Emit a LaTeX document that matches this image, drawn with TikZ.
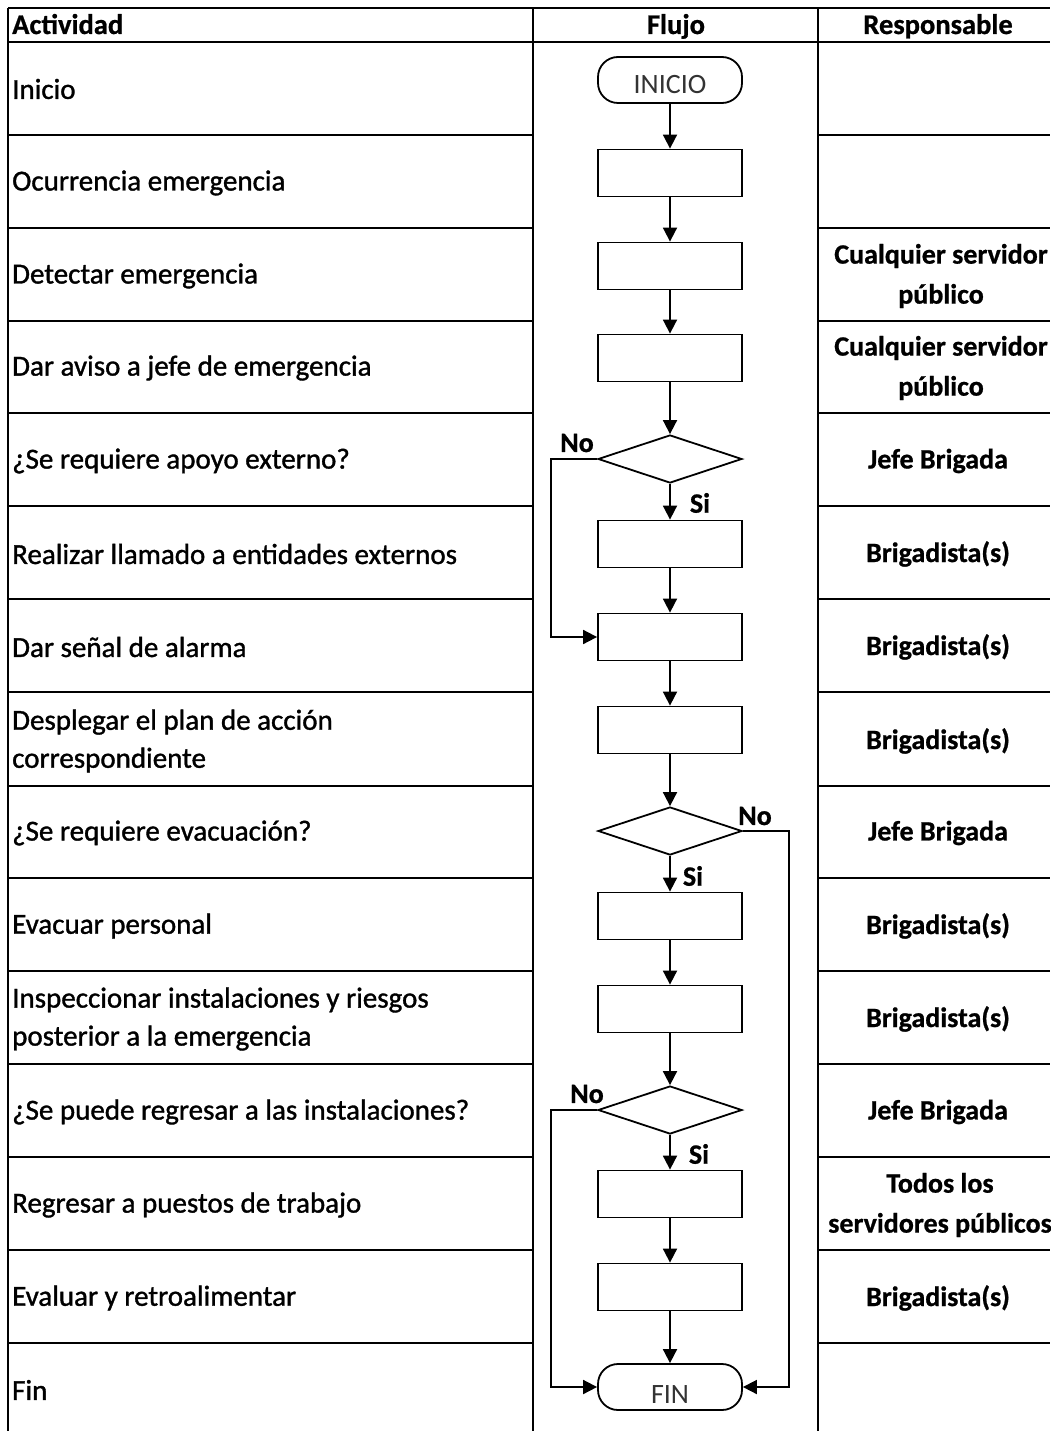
\documentclass[tikz,border=0pt]{standalone}
\usepackage{fontspec}
\setmainfont{Carlito}
\newfontfamily\actfont[FakeBold=1.2]{Carlito}
\newfontfamily\boldfont[FakeBold=0.8]{Carlito Bold}
\usetikzlibrary{shapes.geometric,arrows.meta}
\tikzset{
  tbl/.style={line width=1.8pt,black},
  proc/.style={draw=black,line width=1.8pt,minimum width=144pt,minimum height=47pt,inner sep=0pt},
  term/.style={draw=black,line width=1.8pt,rounded corners=20pt,minimum width=144pt,minimum height=46pt,inner sep=0pt,font=\fontsize{28}{30}\selectfont,text=black!80},
  dec/.style={draw=black,line width=1.8pt,diamond,aspect=3,minimum width=144pt,minimum height=48pt,inner sep=0pt},
  arr/.style={line width=1.8pt,black,-{Triangle[length=14pt,width=14pt]}},
  act/.style={anchor=west,inner sep=0pt,align=left,font=\actfont\fontsize{29}{38}\selectfont},
  resp/.style={inner sep=0pt,align=center,font=\boldfont\fontsize{28}{40}\selectfont},
  hdr/.style={inner sep=0pt,anchor=base,font=\boldfont\fontsize{28.5}{30}\selectfont},
  lbl/.style={inner sep=0pt,font=\boldfont\fontsize{28}{30}\selectfont}
}
\begin{document}
\begin{tikzpicture}[x=1pt,y=-1pt]
\useasboundingbox (0,0) rectangle (1050,1431);
% table
\draw[tbl] (8,8) -- (1050,8);
\draw[tbl] (8,42) -- (1050,42);
\draw[tbl] (8,8) -- (8,1431);
\draw[tbl] (533,8) -- (533,1431);
\draw[tbl] (818,8) -- (818,1431);
\foreach \y in {135,228,321,413,506,599,692,786,878,971,1064,1157,1250,1343}{
  \draw[tbl] (8,\y) -- (533,\y);
  \draw[tbl] (818,\y) -- (1050,\y);
}
% headers
\node[hdr,anchor=base west] (hA) at (12,34) {Actividad};
\node[hdr] (hF) at (676,34) {Flujo};
\node[hdr] (hR) at (938,34) {Responsable};
% activities
\node[act] (a1) at (12,89) {Inicio};
\node[act] (a2) at (12,183) {Ocurrencia emergencia};
\node[act] (a3) at (12,276) {Detectar emergencia};
\node[act] (a4) at (12,368) {Dar aviso a jefe de emergencia};
\node[act] (a5) at (12,461) {¿Se requiere apoyo externo?};
\node[act] (a6) at (12,554) {Realizar llamado a entidades externos};
\node[act] (a7) at (12,647) {Dar señal de alarma};
\node[act] (a8) at (12,741) {Desplegar el plan de acción\\correspondiente};
\node[act] (a9) at (12,833) {¿Se requiere evacuación?};
\node[act] (a10) at (12,926) {Evacuar personal};
\node[act] (a11) at (12,1019) {Inspeccionar instalaciones y riesgos\\posterior a la emergencia};
\node[act] (a12) at (12,1112) {¿Se puede regresar a las instalaciones?};
\node[act] (a13) at (12,1205) {Regresar a puestos de trabajo};
\node[act] (a14) at (12,1298) {Evaluar y retroalimentar};
\node[act] (a15) at (12,1390) {Fin};
% responsible
\node[resp] (r3) at (941,276) {Cualquier servidor\\público};
\node[resp] (r4) at (941,368) {Cualquier servidor\\público};
\node[resp] (r5) at (938,461) {Jefe Brigada};
\node[resp] (r6) at (938,554) {Brigadista(s)};
\node[resp] (r7) at (938,647) {Brigadista(s)};
\node[resp] (r8) at (938,741) {Brigadista(s)};
\node[resp] (r9) at (938,833) {Jefe Brigada};
\node[resp] (r10) at (938,926) {Brigadista(s)};
\node[resp] (r11) at (938,1019) {Brigadista(s)};
\node[resp] (r12) at (938,1112) {Jefe Brigada};
\node[resp] (r13) at (940,1205) {Todos los\\servidores públicos};
\node[resp] (r14) at (938,1298) {Brigadista(s)};
% flow
\node[term] (ini) at (670,80) {\raisebox{-14pt}[0pt][0pt]{INICIO}};
\node[proc] (b2) at (670,173) {};
\node[proc] (b3) at (670,266) {};
\node[proc] (b4) at (670,358) {};
\node[dec] (d1) at (670,459) {};
\node[proc] (b6) at (670,544) {};
\node[proc] (b7) at (670,637) {};
\node[proc] (b8) at (670,730) {};
\node[dec] (d2) at (670,831) {};
\node[proc] (b10) at (670,916) {};
\node[proc] (b11) at (670,1009) {};
\node[dec] (d3) at (670,1110) {};
\node[proc] (b13) at (670,1194) {};
\node[proc] (b14) at (670,1287) {};
\node[term] (fin) at (670,1387) {\raisebox{-16pt}[0pt][0pt]{FIN}};
% connectors
\draw[arr] (ini) -- (b2);
\draw[arr] (b2) -- (b3);
\draw[arr] (b3) -- (b4);
\draw[arr] (b4) -- (d1);
\draw[arr] (d1) -- (b6);
\draw[arr] (b6) -- (b7);
\draw[arr] (d1.west) -- ++(-46,0) |- (b7.west);
\draw[arr] (b7) -- (b8);
\draw[arr] (b8) -- (d2);
\draw[arr] (d2) -- (b10);
\draw[arr] (d2.east) -- ++(46,0) |- (fin.east);
\draw[arr] (b10) -- (b11);
\draw[arr] (b11) -- (d3);
\draw[arr] (d3) -- (b13);
\draw[arr] (d3.west) -- ++(-46,0) |- (fin.west);
\draw[arr] (b13) -- (b14);
\draw[arr] (b14) -- (fin);
% labels
\node[lbl] (n1) at (577,443) {No};
\node[lbl] (s1) at (700,503) {Si};
\node[lbl] (n2) at (755,816) {No};
\node[lbl] (s2) at (693,876) {Si};
\node[lbl] (n3) at (587,1094) {No};
\node[lbl] (s3) at (699,1154) {Si};
\end{tikzpicture}
\end{document}
